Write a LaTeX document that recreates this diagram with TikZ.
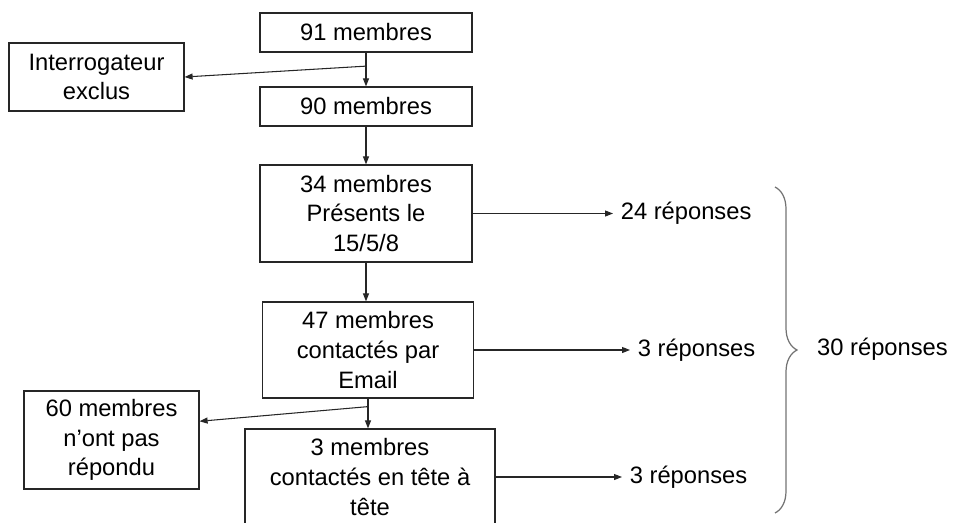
\documentclass[tikz,border=0pt]{standalone}
\usepackage{fontspec}
\setmainfont{Liberation Sans}
\usepackage{tikz}
\usetikzlibrary{arrows.meta, positioning, calc, decorations.pathreplacing}

\begin{document}
\begin{tikzpicture}[
    etape/.style={rectangle, draw=black!85, line width=0.7pt, align=center, inner sep=0pt, font=\fontsize{13.5}{16.8}\selectfont},
    reponse/.style={anchor=west, inner xsep=0.15cm, font=\fontsize{13.5}{16.8}\selectfont},
    fleche/.style={-{Triangle[length=1.6mm,width=1.2mm]}, line width=0.6pt, draw=black!85}
]
    \useasboundingbox (0,0) rectangle (19.08,-10.44);
    \clip (0,0) rectangle (19.08,-10.44);

    \node[etape, minimum width=4.24cm, minimum height=0.78cm] (n91) at (7.32, -0.65) {91 membres};
    \node[etape, minimum width=3.5cm, minimum height=1.36cm] (inter) at (1.93, -1.54) {Interrogateur\\exclus};
    \node[etape, minimum width=4.24cm, minimum height=0.78cm] (n90) at (7.32, -2.13) {90 membres};
    \node[etape, minimum width=4.24cm, minimum height=1.94cm] (n34) at (7.32, -4.27) {34 membres\\Présents le\\15/5/8};
    \node[etape, minimum width=4.22cm, minimum height=1.92cm] (n47) at (7.36, -7.00) {47 membres\\contactés par\\Email};
    \node[etape, minimum width=3.5cm, minimum height=1.96cm] (n60) at (2.23, -8.80) {60 membres\\n’ont pas\\répondu};
    \node[etape, minimum width=5.0cm, minimum height=1.92cm] (n3) at (7.40, -9.54) {3 membres\\contactés en tête à\\tête};

    \node[reponse] (r24) at (12.26, -4.27) {24 réponses};
    \node[reponse] (r3a) at (12.60, -7.00) {3 réponses};
    \node[reponse] (r3b) at (12.44, -9.54) {3 réponses};

    % branches vers les exclus
    \coordinate (b1) at ($(n91.south)!0.4!(n90.north)$);
    \coordinate (b2) at ($(n47.south)+(0,-0.16)$);

    \draw[fleche] (n91.south) -- (n90.north);
    \draw[fleche] (b1) -- (inter.east);
    \draw[fleche] (n90.south) -- (n34.north);
    \draw[fleche] (n34.south) -- (n34.south |- n47.north);
    \draw[fleche] (n47.south) -- (n47.south |- n3.north);
    \draw[fleche] (b2) -- (n60.12);

    \draw[fleche] (n34.east) -- (r24.west);
    \draw[fleche] (n47.east) -- (r3a.west);
    \draw[fleche] (n3.east) -- (r3b.west);

    % accolade du total
    \coordinate (haut) at (15.50, -3.74);
    \coordinate (bas) at (15.50, -10.26);
    \draw[black!55, line width=0.7pt, decorate, decoration={brace, amplitude=0.44cm}] (haut) -- (bas);
    \node[font=\fontsize{13.5}{16.8}\selectfont] (total) at (17.65, -6.98) {30 réponses};
\end{tikzpicture}
\end{document}
